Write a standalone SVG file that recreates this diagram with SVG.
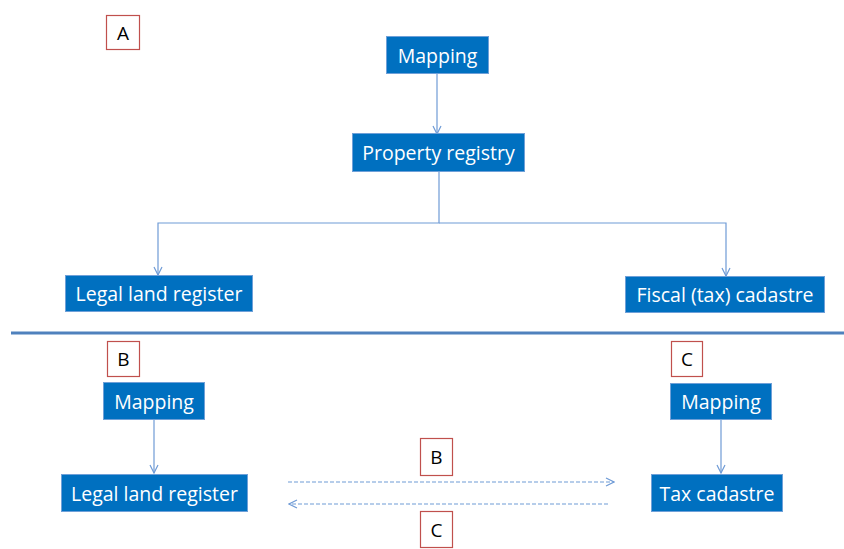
<svg xmlns="http://www.w3.org/2000/svg" width="844" height="549" viewBox="0 0 844 549">
<style>
.box{fill:#0070c0;stroke:#6fa0d8;stroke-width:1}
.bt{fill:#fff;font-family:"Open Sans","Liberation Sans",sans-serif;font-size:19.5px;text-anchor:middle;dominant-baseline:central}
.lab{fill:#fff;stroke:#c0504d;stroke-width:1.2}
.lt{fill:#000;font-family:"Open Sans","Liberation Sans",sans-serif;font-size:19px;text-anchor:middle;dominant-baseline:central}
.c{fill:none;stroke:#6f9bd6;stroke-width:1.2}
.d{fill:none;stroke:#6f9bd6;stroke-width:1.2;stroke-dasharray:4 2}
</style>
<defs>
<marker id="ah" viewBox="0 0 10 10" refX="9" refY="5" markerWidth="10" markerHeight="10" markerUnits="userSpaceOnUse" orient="auto">
<path d="M1 1 L9 5 L1 9" fill="none" stroke="#6f9bd6" stroke-width="1.2"/>
</marker>
</defs>
<line x1="11" y1="333" x2="844" y2="333" stroke="#4f81bd" stroke-width="3"/>
<g id="connectors">
<path class="c" d="M437 73 V134" marker-end="url(#ah)"/>
<path class="c" d="M439 171 V223 H158 V275" marker-end="url(#ah)"/>
<path class="c" d="M439 223 H726 V276" marker-end="url(#ah)"/>
<path class="c" d="M154 419 V473" marker-end="url(#ah)"/>
<path class="c" d="M721 419 V473" marker-end="url(#ah)"/>
<path class="d" d="M288 482 H614" marker-end="url(#ah)"/>
<path class="d" d="M608 504 H289" marker-end="url(#ah)"/>
</g>
<g id="labelA"><rect class="lab" x="106.5" y="15.5" width="33" height="34"/><text class="lt" x="123" y="33">A</text></g>
<g id="mappingTop"><rect class="box" x="386.5" y="36.5" width="102" height="37"/><text class="bt" x="437.5" y="55">Mapping</text></g>
<g id="propertyRegistry"><rect class="box" x="352.5" y="133.5" width="172" height="38"/><text class="bt" x="438.5" y="152.5">Property registry</text></g>
<g id="legalTop"><rect class="box" x="65.5" y="275.5" width="187" height="36"/><text class="bt" x="159" y="293.5">Legal land register</text></g>
<g id="fiscal"><rect class="box" x="625.5" y="276.5" width="199" height="36"/><text class="bt" x="725" y="294.5">Fiscal (tax) cadastre</text></g>
<g id="labelB"><rect class="lab" x="107.5" y="341.5" width="32" height="35"/><text class="lt" x="123.5" y="359">B</text></g>
<g id="mappingB"><rect class="box" x="103.5" y="382.5" width="101" height="37"/><text class="bt" x="154" y="401">Mapping</text></g>
<g id="legalB"><rect class="box" x="61.5" y="474.5" width="186" height="37"/><text class="bt" x="154.5" y="493">Legal land register</text></g>
<g id="labelC"><rect class="lab" x="671.5" y="341.5" width="31" height="35"/><text class="lt" x="687" y="359">C</text></g>
<g id="mappingC"><rect class="box" x="670.5" y="383.5" width="101" height="36"/><text class="bt" x="721" y="401.5">Mapping</text></g>
<g id="taxCadastre"><rect class="box" x="651.5" y="474.5" width="131" height="37"/><text class="bt" x="717" y="493">Tax cadastre</text></g>
<g id="labelBmid"><rect class="lab" x="420.5" y="438.5" width="32" height="37"/><text class="lt" x="436.5" y="457">B</text></g>
<g id="labelCmid"><rect class="lab" x="420.5" y="511.5" width="32" height="36"/><text class="lt" x="436.5" y="529.5">C</text></g>
</svg>
